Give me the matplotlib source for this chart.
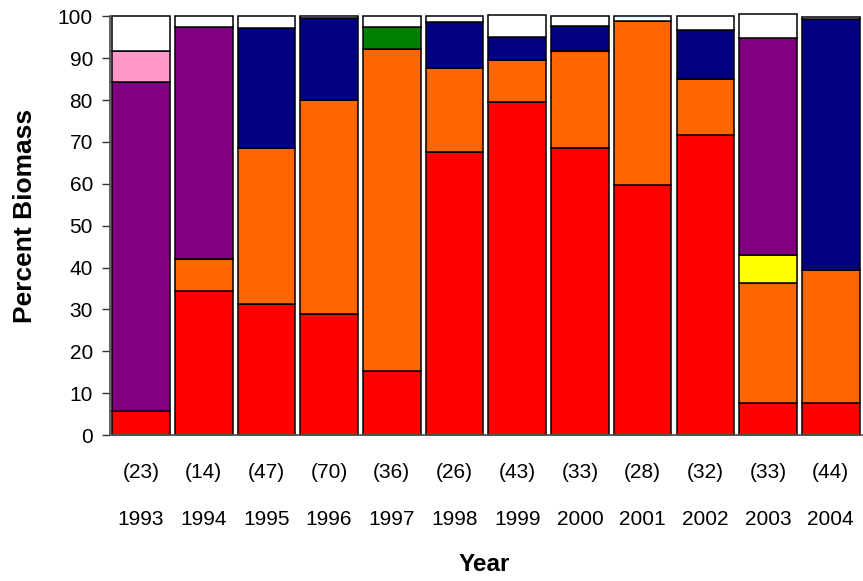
import numpy as np
import matplotlib.pyplot as plt

plt.rcParams['font.family'] = ['Liberation Sans', 'DejaVu Sans']

years = ['1993', '1994', '1995', '1996', '1997', '1998', '1999', '2000', '2001', '2002', '2003', '2004']
counts = [23, 14, 47, 70, 36, 26, 43, 33, 28, 32, 33, 44]

# segment heights (percent), bottom to top
red    = [5.7, 34.4, 31.2, 29.0, 15.3, 67.6, 79.5, 68.5, 59.8, 71.7, 7.6, 7.6]
orange = [0.0, 7.6, 37.3, 51.0, 77.0, 20.0, 10.0, 23.1, 39.0, 13.3, 28.7, 31.9]
yellow = [0.0, 0.0, 0.0, 0.0, 0.0, 0.0, 0.0, 0.0, 0.0, 0.0, 6.7, 0.0]
purple = [78.5, 55.5, 0.0, 0.0, 0.0, 0.0, 0.0, 0.0, 0.0, 0.0, 51.9, 0.0]
pink   = [7.4, 0.0, 0.0, 0.0, 0.0, 0.0, 0.0, 0.0, 0.0, 0.0, 0.0, 0.0]
green  = [0.0, 0.0, 0.0, 0.0, 5.2, 0.0, 0.0, 0.0, 0.0, 0.0, 0.0, 0.0]
navy   = [0.0, 0.0, 28.8, 19.5, 0.0, 11.1, 5.5, 6.0, 0.0, 11.7, 0.0, 59.8]
white  = [8.4, 2.5, 2.7, 0.5, 2.5, 1.3, 5.3, 2.4, 1.2, 3.3, 5.7, 0.6]

segments = [(red, '#FF0000'), (orange, '#FF6600'), (yellow, '#FFFF00'),
            (purple, '#800080'), (pink, '#FF99CC'), (green, '#008000'),
            (navy, '#000080'), (white, '#FFFFFF')]

fig = plt.figure(figsize=(8.63, 5.81), dpi=100)
ax = fig.add_axes([0.127, 0.251, 0.872, 0.721])

x = np.arange(len(years))
bottom = np.zeros(len(years))
for vals, col in segments:
    vals = np.array(vals)
    ax.bar(x, vals, bottom=bottom, width=0.92, color=col, edgecolor='black',
           linewidth=1.1, clip_on=False)
    bottom += vals

ax.set_xlim(-0.5, 11.5)
ax.set_ylim(0, 100)
ax.set_yticks(range(0, 101, 10))
ax.tick_params(axis='y', labelsize=15, length=6, width=1, pad=6,
               colors='#333333', labelcolor='black')
ax.set_xticks([])
for s in ['top', 'right']:
    ax.spines[s].set_visible(False)
ax.spines['left'].set_color('#555555')
ax.spines['left'].set_linewidth(1.3)
ax.spines['bottom'].set_color('#555555')
ax.spines['bottom'].set_linewidth(1.3)

# sample sizes and years under each bar
for i, (yr, n) in enumerate(zip(years, counts)):
    ax.annotate(f'({n})', xy=(i, 0), xycoords=('data', 'axes fraction'),
                xytext=(0, -37), textcoords='offset pixels',
                ha='center', va='center', fontsize=15)
    ax.annotate(yr, xy=(i, 0), xycoords=('data', 'axes fraction'),
                xytext=(0, -84), textcoords='offset pixels',
                ha='center', va='center', fontsize=15)

fig.text(0.561, 0.029, 'Year', ha='center', va='center', fontsize=17.5, fontweight='bold')
fig.text(0.029, 0.628, 'Percent Biomass', ha='center', va='center', fontsize=19,
         fontweight='bold', rotation=90)

fig.savefig('out.png', dpi=100)
